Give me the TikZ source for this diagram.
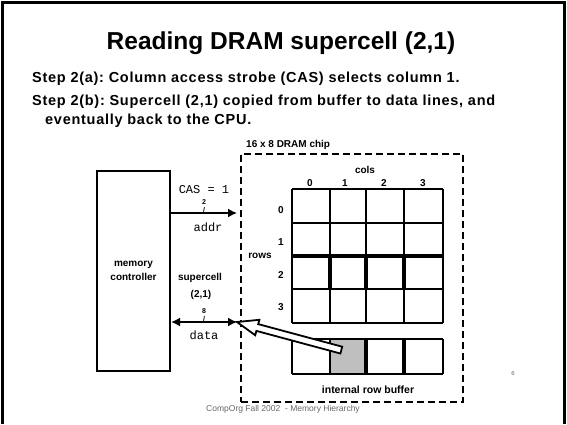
\documentclass[tikz,border=0pt]{standalone}
\usepackage{fontspec}
\setmainfont{Liberation Sans}
\setmonofont{Liberation Mono}
\newfontfamily\stepfont[LetterSpace=5]{Liberation Sans}
\usetikzlibrary{arrows.meta}
\begin{document}
\frenchspacing
\begin{tikzpicture}[x=1pt,y=-1pt,
  lbl/.style={font=\bfseries\fontsize{10}{11}\selectfont, inner sep=0pt},
  tiny/.style={font=\bfseries\fontsize{7}{8}\selectfont, inner sep=0pt},
  code/.style={font=\ttfamily\fontsize{12}{14}\selectfont, inner sep=0pt},
  steptext/.style={font=\stepfont\bfseries\fontsize{14.5}{16}\selectfont, inner sep=0pt, anchor=west},
  thin/.style={line width=2pt},
  thick/.style={line width=3.5pt},
  bus/.style={line width=2pt, -{Latex[length=9pt,width=9pt]}},
  dbus/.style={line width=2pt, {Latex[length=9pt,width=9pt]}-{Latex[length=9pt,width=9pt]}},
  chipbox/.style={draw, line width=1.8pt, dash pattern=on 7pt off 4pt, inner sep=0pt},
  ctrlbox/.style={draw, line width=2pt, inner sep=0pt, align=center}
]
\useasboundingbox (0,0) rectangle (567,424);
% slide frame
\draw[line width=3pt] (2.5,424) -- (2.5,2.5) -- (564.5,2.5) -- (564.5,424);

% title and steps
\node[font=\bfseries\fontsize{24.5}{28}\selectfont, inner sep=0pt] (title) at (281,43) {Reading DRAM supercell (2,1)};
\node[steptext] (s1) at (32,79) {Step 2(a): Column access strobe (CAS) selects column 1.};
\node[steptext] (s2) at (32,102) {Step 2(b): Supercell (2,1) copied from buffer to data lines, and};
\node[steptext] (s3) at (45,121) {eventually back to the CPU.};

% memory controller
\node[ctrlbox, minimum width=73pt, minimum height=200pt, font=\bfseries\fontsize{10}{14}\selectfont] (mc) at (133.5,271) {memory\\controller};

% DRAM chip
\node[chipbox, minimum width=222pt, minimum height=248pt] (chip) at (352,278) {};
\node[lbl, anchor=west] (chiplbl) at (246,145) {16 x 8 DRAM chip};

% grid
\foreach \x in {292,330,366,404,443} \draw[thin] (\x,189) -- (\x,323);
\foreach \y in {189,223,256,289,323} \draw[thin] (292,\y) -- (443,\y);
\draw[thick] (292,256) -- (443,256);
\foreach \x in {330,366,404} \draw[thick] (\x,256) -- (\x,289);

% row buffer
\fill[gray!50] (330,339) rectangle (366,374);
\foreach \x in {292,330,443} \draw[thin] (\x,339) -- (\x,374);
\foreach \x in {366,404} \draw[thick] (\x,339) -- (\x,374);
\draw[thin] (292,339) -- (443,339);
\draw[thin] (292,374) -- (443,374);

% labels
\node[lbl] (cols) at (365,170) {cols};
\node[lbl] (c0) at (310,183) {0};
\node[lbl] (c1) at (345,183) {1};
\node[lbl] (c2) at (384,183) {2};
\node[lbl] (c3) at (423,183) {3};
\node[lbl] (r0) at (281,210) {0};
\node[lbl] (r1) at (281,242) {1};
\node[lbl] (r2) at (281,275) {2};
\node[lbl] (r3) at (281,307) {3};
\node[lbl] (rows) at (260,256) {rows};
\node[font=\bfseries\fontsize{10.5}{12}\selectfont, inner sep=0pt] (irb) at (368,390) {internal row buffer};

% address bus
\draw[bus] (mc.east |- 0,213) -- ([xshift=-3pt]chip.west |- 0,213);
\node[code] (cas) at (204,190) {CAS = 1};
\node[tiny] (n2) at (204,202) {2};
\node[tiny] (sl1) at (204,210) {/};
\node[code] (addr) at (208,227) {addr};

% data bus
\draw[dbus] (mc.east |- 0,322) -- ([xshift=-3pt]chip.west |- 0,322);
\node[lbl] (sc) at (200,278) {supercell};
\node[lbl] (sc21) at (201,295) {(2,1)};
\node[tiny] (n8) at (204,311) {8};
\node[tiny] (sl2) at (204,319) {/};
\node[code] (data) at (204,335) {data};

% hollow arrow from buffer cell to data lines
\draw[line width=1.8pt, fill=white, line join=miter]
  (237,322) -- (259.4,319.8) -- (258.2,324.1) -- (342.2,346.7)
  -- (340.4,353.5) -- (256.4,330.9) -- (255.2,335.2) -- cycle;

% footer
\node[font=\fontsize{8.5}{10}\selectfont, text=black!60, inner sep=0pt] (foot) at (283,409) {CompOrg Fall 2002\ \ - Memory Hierarchy};
\node[font=\fontsize{6}{7}\selectfont, text=black!60, inner sep=0pt] (pg) at (513,373) {6};
\end{tikzpicture}
\end{document}
